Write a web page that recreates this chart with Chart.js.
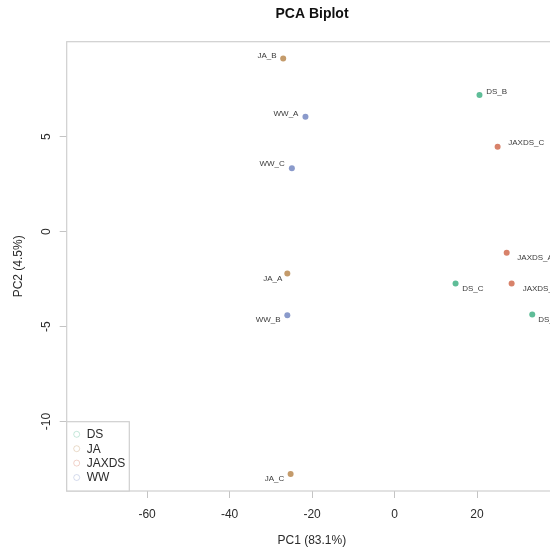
<!DOCTYPE html>
<html>
<head>
<meta charset="utf-8">
<title>PCA Biplot</title>
<script src="https://cdn.jsdelivr.net/npm/chart.js@4.4.1/dist/chart.umd.min.js"></script>
<style>
  html, body { margin: 0; padding: 0; background: #fff; overflow: hidden; }
  canvas { display: block; }
</style>
</head>
<body>
<canvas id="pcaChart" width="624" height="554"></canvas>
<script>
// PCA scores per sample
const sampleNames  = ['DS_A', 'DS_B', 'DS_C', 'JA_A', 'JA_B', 'JA_C', 'JAXDS_A', 'JAXDS_B', 'JAXDS_C', 'WW_A', 'WW_B', 'WW_C'];
const sampleGroups = ['DS', 'DS', 'DS', 'JA', 'JA', 'JA', 'JAXDS', 'JAXDS', 'JAXDS', 'WW', 'WW', 'WW'];
const pc1 = [33.4, 20.6, 14.8, -26.0, -27.0, -25.2, 27.2, 28.4, 25.0, -21.6, -26.0, -24.9];
const pc2 = [-4.36, 7.19, -2.73, -2.20, 9.12, -12.77, -1.12, -2.73, 4.47, 6.05, -4.41, 3.34];

const groupNames = ['DS', 'JA', 'JAXDS', 'WW'];
const xTickValues = [-60, -40, -20, 0, 20];
const yTickValues = [-10, -5, 0, 5];

// styling
const groupColors  = ['#5fbd98', '#c49b6b', '#d8826a', '#8a9acb'];
const legendColors = ['rgba(95,189,152,0.35)', 'rgba(196,155,107,0.35)', 'rgba(216,130,106,0.35)', 'rgba(138,154,203,0.35)'];
// text nudge in px from the point: negative dx puts the label on the left
const labelNudge = [[6, 5], [6.7, -3.3], [6.7, 5], [-5, 5], [-6.6, -3], [-6.4, 5],
                    [10.6, 4.7], [11, 5], [10.6, -4], [-7, -3.4], [-6.7, 4.7], [-7, -4]];

const FONT = "'Liberation Sans', Arial, Helvetica, sans-serif";
const TEXT = '#2b2b2b';
const FRAME = '#cfcfcf';

const datasets = groupNames.map((g, gi) => ({
    label: g,
    data: sampleNames
        .map((name, i) => ({ x: pc1[i], y: pc2[i], name: name, nudge: labelNudge[i], group: sampleGroups[i] }))
        .filter(p => p.group === g),
    backgroundColor: groupColors[gi],
    borderWidth: 0,
    pointRadius: 3,
    pointHoverRadius: 3
}));

const plotFrame = {
    id: 'plotFrame',
    beforeDatasetsDraw(chart) {
        const { ctx, chartArea: a } = chart;
        ctx.save();
        ctx.strokeStyle = FRAME;
        ctx.lineWidth = 1.2;
        ctx.strokeRect(a.left, a.top, a.right - a.left, a.bottom - a.top);
        ctx.restore();
    }
};

const sampleLabels = {
    id: 'sampleLabels',
    afterDatasetsDraw(chart) {
        const ctx = chart.ctx;
        ctx.save();
        ctx.font = '8px ' + FONT;
        ctx.fillStyle = '#3a3a3a';
        ctx.textBaseline = 'middle';
        chart.data.datasets.forEach((ds, di) => {
            chart.getDatasetMeta(di).data.forEach((pt, i) => {
                const p = ds.data[i];
                ctx.textAlign = p.nudge[0] < 0 ? 'right' : 'left';
                ctx.fillText(p.name, pt.x + p.nudge[0], pt.y + p.nudge[1]);
            });
        });
        ctx.restore();
    }
};

const groupLegend = {
    id: 'groupLegend',
    afterDraw(chart) {
        const { ctx, chartArea: a } = chart;
        const left = a.left, top = a.bottom - 69.3, w = 62.6;
        ctx.save();
        ctx.fillStyle = '#fff';
        ctx.fillRect(left, top, w, a.bottom - top);
        ctx.strokeStyle = FRAME;
        ctx.lineWidth = 1.2;
        ctx.strokeRect(left, top, w, a.bottom - top);
        ctx.font = '12px ' + FONT;
        ctx.textBaseline = 'middle';
        ctx.textAlign = 'left';
        chart.data.datasets.forEach((ds, i) => {
            const y = top + 12.6 + i * 14.4;
            ctx.beginPath();
            ctx.arc(left + 10, y, 3, 0, Math.PI * 2);
            ctx.strokeStyle = legendColors[i];
            ctx.lineWidth = 1;
            ctx.stroke();
            ctx.fillStyle = TEXT;
            ctx.fillText(ds.label, left + 20, y + 0.5);
        });
        ctx.restore();
    }
};

new Chart(document.getElementById('pcaChart'), {
    type: 'scatter',
    data: { datasets: datasets },
    options: {
        responsive: false,
        animation: false,
        devicePixelRatio: 1,
        layout: { padding: 0 },
        plugins: {
            legend: { display: false },
            tooltip: { enabled: false },
            title: {
                display: true,
                text: 'PCA Biplot',
                color: '#111',
                font: { family: FONT, size: 14, weight: 'bold', lineHeight: 1.2 },
                padding: { top: 5.6, bottom: 19.3 }
            }
        },
        scales: {
            x: {
                type: 'linear',
                position: 'bottom',
                min: -79.5,
                max: 39.4,
                afterBuildTicks: s => { s.ticks = xTickValues.map(v => ({ value: v })); },
                afterFit: s => { s.height = 63; },
                ticks: {
                    color: TEXT,
                    padding: 9,
                    font: { family: FONT, size: 12 },
                    maxRotation: 0,
                    callback: v => String(v)
                },
                grid: { drawOnChartArea: false, drawTicks: true, tickLength: 7, color: '#c4c4c4' },
                border: { display: false },
                title: {
                    display: true,
                    text: 'PC1 (83.1%)',
                    color: TEXT,
                    font: { family: FONT, size: 12, lineHeight: 1.2 },
                    padding: { top: 0, bottom: 5.8 }
                }
            },
            y: {
                type: 'linear',
                position: 'left',
                min: -13.66,
                max: 10.0,
                afterBuildTicks: s => { s.ticks = yTickValues.map(v => ({ value: v })); },
                afterFit: s => { s.width = 66.7; },
                ticks: {
                    color: TEXT,
                    padding: 4,
                    minRotation: 90,
                    maxRotation: 90,
                    crossAlign: 'center',
                    font: { family: FONT, size: 12 },
                    callback: v => String(v)
                },
                grid: { drawOnChartArea: false, drawTicks: true, tickLength: 7, color: '#c4c4c4' },
                border: { display: false },
                title: {
                    display: true,
                    text: 'PC2 (4.5%)',
                    color: TEXT,
                    font: { family: FONT, size: 12, lineHeight: 1.2 },
                    padding: { top: 11, bottom: 0 }
                }
            },
            // empty right margin so the plot region ends where the title is centred
            yRight: {
                type: 'linear',
                position: 'right',
                display: true,
                afterFit: s => { s.width = 67; },
                ticks: { display: false },
                grid: { display: false },
                border: { display: false }
            }
        }
    },
    plugins: [plotFrame, sampleLabels, groupLegend]
});
</script>
</body>
</html>
